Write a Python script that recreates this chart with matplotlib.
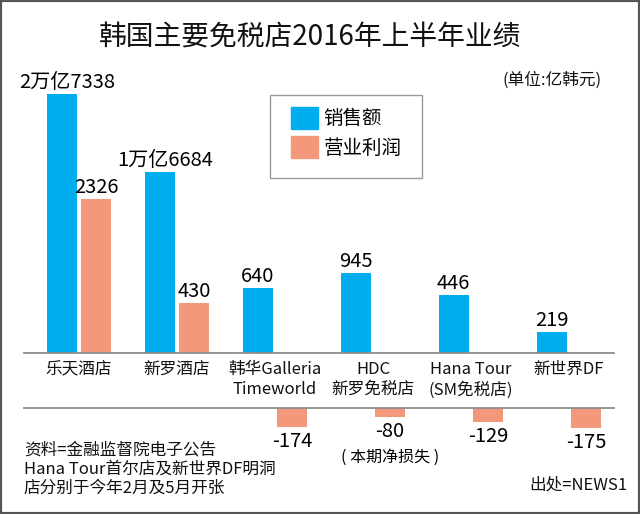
import numpy as np
import matplotlib
matplotlib.use('Agg')
import matplotlib.pyplot as plt
from matplotlib.patches import Patch, Rectangle

plt.rcParams['font.family'] = ['Noto Sans CJK SC', 'DejaVu Sans']

# data (亿韩元)
stores = ['乐天酒店', '新罗酒店', '韩华Galleria\nTimeworld', 'HDC\n新罗免税店',
          'Hana Tour\n(SM免税店)', '新世界DF']
sales = [27338, 16684, 640, 945, 446, 219]
profit = [2326, 430, -174, -80, -129, -175]
# the infographic does not draw bars to scale: bar lengths as drawn in the picture
sales_len = [259, 181, 65, 80, 58, 21]
profit_len = [154, 50, 19, 9, 14, 20]

blue = '#00aeef'
salmon = '#f3987a'
line_col = '#8c8c8c'


def fmt(v):
    if abs(v) >= 10000:
        return f'{v // 10000}万亿{v % 10000}'
    return str(v)


W, H = 640, 514
fig = plt.figure(figsize=(W / 100, H / 100), dpi=100)

x = np.arange(len(stores))
bw = 0.31
off = 0.175

# upper panel: sales and positive profit
ax = fig.add_axes([24 / W, 1 - 353 / H, 590 / W, 293 / H])
ax.bar(x - off, sales_len, bw, color=blue)
for i, v in enumerate(sales):
    ax.annotate(fmt(v), (x[i] - off + 0.05 * (v >= 10000), sales_len[i]), xytext=(0, 1),
                textcoords='offset points', ha='center', va='bottom', fontsize=14.5)
pos = [i for i, v in enumerate(profit) if v > 0]
ax.bar(x[pos] + off, [profit_len[i] for i in pos], bw, color=salmon)
for i in pos:
    ax.annotate(fmt(profit[i]), (x[i] + off, profit_len[i]), xytext=(0, 1),
                textcoords='offset points', ha='center', va='bottom', fontsize=14.5)
ax.set_xlim(-0.561, 5.46)
ax.set_ylim(0, 293)
ax.set_xticks(x, stores, fontsize=12, color='#111111')
ax.tick_params(axis='x', length=0, pad=6)
ax.set_yticks([])
for s in ['top', 'left', 'right']:
    ax.spines[s].set_visible(False)
ax.spines['bottom'].set_color(line_col)
ax.spines['bottom'].set_linewidth(1.3)

# lower panel: negative profit
ax2 = fig.add_axes([24 / W, 1 - 470 / H, 590 / W, 62 / H])
neg = [i for i, v in enumerate(profit) if v < 0]
ax2.bar(x[neg] + off, [-profit_len[i] for i in neg], bw, color=salmon)
for i in neg:
    ax2.annotate(str(profit[i]), (x[i] + off, -profit_len[i]), xytext=(0, -3),
                 textcoords='offset points', ha='center', va='top', fontsize=14.5)
ax2.annotate('( 本期净损失 )', (x[3] + off, -profit_len[3]), xytext=(0, -23),
             textcoords='offset points', ha='center', va='top', fontsize=11.5)
ax2.set_xlim(-0.561, 5.46)
ax2.set_ylim(-62, 0)
ax2.set_xticks([])
ax2.set_yticks([])
for s in ['bottom', 'left', 'right']:
    ax2.spines[s].set_visible(False)
ax2.spines['top'].set_color(line_col)
ax2.spines['top'].set_linewidth(1.3)
ax2.patch.set_alpha(0)

# legend (frame drawn separately)
handles = [Patch(color=blue, label='销售额'), Patch(color=salmon, label='营业利润')]
fig.legend(handles=handles, loc='upper left', bbox_to_anchor=(291 / W, 1 - 107 / H),
           fontsize=14, frameon=False, handlelength=1.4, handleheight=1.34,
           handletextpad=0.26, labelspacing=0.36, borderpad=0, borderaxespad=0)
fig.patches.append(Rectangle((270 / W, 1 - 178 / H), 152 / W, 83 / H,
                             transform=fig.transFigure, fill=False,
                             edgecolor='#999999', linewidth=1.0))

# texts
fig.text(0.485, 1 - 37 / H, '韩国主要免税店2016年上半年业绩', ha='center', va='center',
         fontsize=20, fontweight='medium', color='#111111')
fig.text(602 / W, 1 - 80 / H, '(单位:亿韩元)', ha='right', va='center', fontsize=12,
         color='#111111')
fig.text(24 / W, 1 - 441 / H, '资料=金融监督院电子公告\nHana Tour首尔店及新世界DF明洞\n店分别于今年2月及5月开张',
         ha='left', va='top', fontsize=12, linespacing=1.2, color='#111111')
fig.text(628 / W, 1 - 485 / H, '出处=NEWS1', ha='right', va='center', fontsize=12,
         color='#111111')

# outer frame
fig.patches.append(Rectangle((0, 0), 1, 1, transform=fig.transFigure, fill=False,
                             edgecolor='#555555', linewidth=3))

fig.savefig('out.png', dpi=100)
